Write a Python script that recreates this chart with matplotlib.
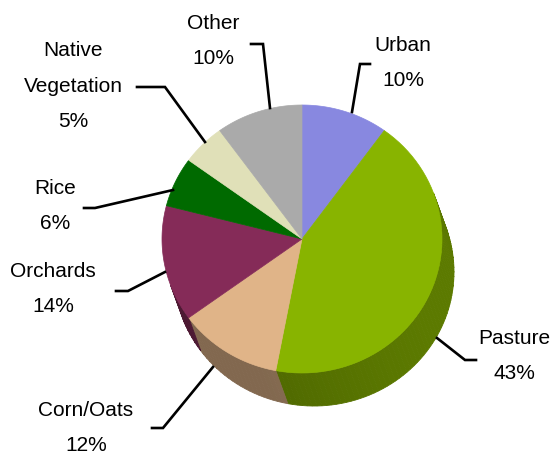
import numpy as np
import matplotlib
matplotlib.use('Agg')
import matplotlib.pyplot as plt
from matplotlib.colors import to_rgb

# land use shares (percent), clockwise from 12 o'clock
labels = ['Urban', 'Pasture', 'Corn/Oats', 'Orchards', 'Rice', 'Native\nVegetation', 'Other']
shares = [10, 43, 12, 14, 6, 5, 10]
colors = ['#8888e0', '#88b400', '#e0b488', '#852b58', '#006a00', '#e0e0b8', '#aaaaaa']

# label layout: text centre, leader line points (pixels)
label_pos = [(403, 63), (514, 356), (86, 428), (53, 289), (55, 206), (73, 86), (213, 41)]
leaders = [
    [(352, 112), (360, 64), (370, 64)],
    [(437, 338), (465, 360), (476, 360)],
    [(213, 367), (163, 428), (152, 428)],
    [(165, 272), (128, 291), (116, 291)],
    [(173, 190), (95, 208), (84, 208)],
    [(205, 142), (165, 87), (137, 87)],
    [(270, 108), (263, 44), (251, 44)],
]

# pie geometry in pixels
cx, cy, rx, ry = 302, 239, 140, 134
dx, dy = 12, 33
vis_lo, vis_hi = -160, 20

plt.rcParams['font.family'] = ['Liberation Sans', 'DejaVu Sans']

fig = plt.figure(figsize=(5.5, 4.54), dpi=100)
ax = fig.add_axes([0, 0, 1, 1])
ax.set_xlim(0, 550)
ax.set_ylim(454, 0)
ax.axis('off')


def arc(a0, a1, n=60, ox=0, oy=0):
    t = np.radians(np.linspace(a0, a1, n))
    return cx + ox + rx * np.cos(t), cy + oy - ry * np.sin(t)


total = sum(shares)
edges = 90 - 360 * np.concatenate([[0], np.cumsum(shares)]) / total

# side of the pie
for i, c in enumerate(colors):
    a_start, a_end = edges[i], edges[i + 1]
    lo, hi = max(a_end, vis_lo), min(a_start, vis_hi)
    if lo >= hi:
        continue
    steps = np.linspace(hi, lo, max(2, int((hi - lo) / 2) + 1))
    base = np.array(to_rgb(c))
    for s0, s1 in zip(steps[:-1], steps[1:]):
        mid = np.radians((s0 + s1) / 2)
        f = 0.58 + 0.1 * max(0, np.cos(mid + 0.3))
        col = base * f
        x1, y1 = arc(s0, s1, 5)
        x2, y2 = arc(s1, s0, 5, dx, dy)
        ax.fill(np.concatenate([x1, x2]), np.concatenate([y1, y2]),
                color=col, lw=0.6, ec=col)

# top face
for i, c in enumerate(colors):
    x, y = arc(edges[i], edges[i + 1])
    ax.fill(np.concatenate([[cx], x]), np.concatenate([[cy], y]),
            color=c, lw=0.5, ec=c)

# labels and leader lines
for lab, val, pos, pts in zip(labels, shares, label_pos, leaders):
    xs, ys = zip(*pts)
    ax.plot(xs, ys, color='black', lw=1.9, solid_joinstyle='miter')
    ax.text(pos[0], pos[1], f'{lab}\n{val}%', ha='center', va='center',
            fontsize=15, linespacing=2.1)

fig.savefig('out.png', dpi=100)
